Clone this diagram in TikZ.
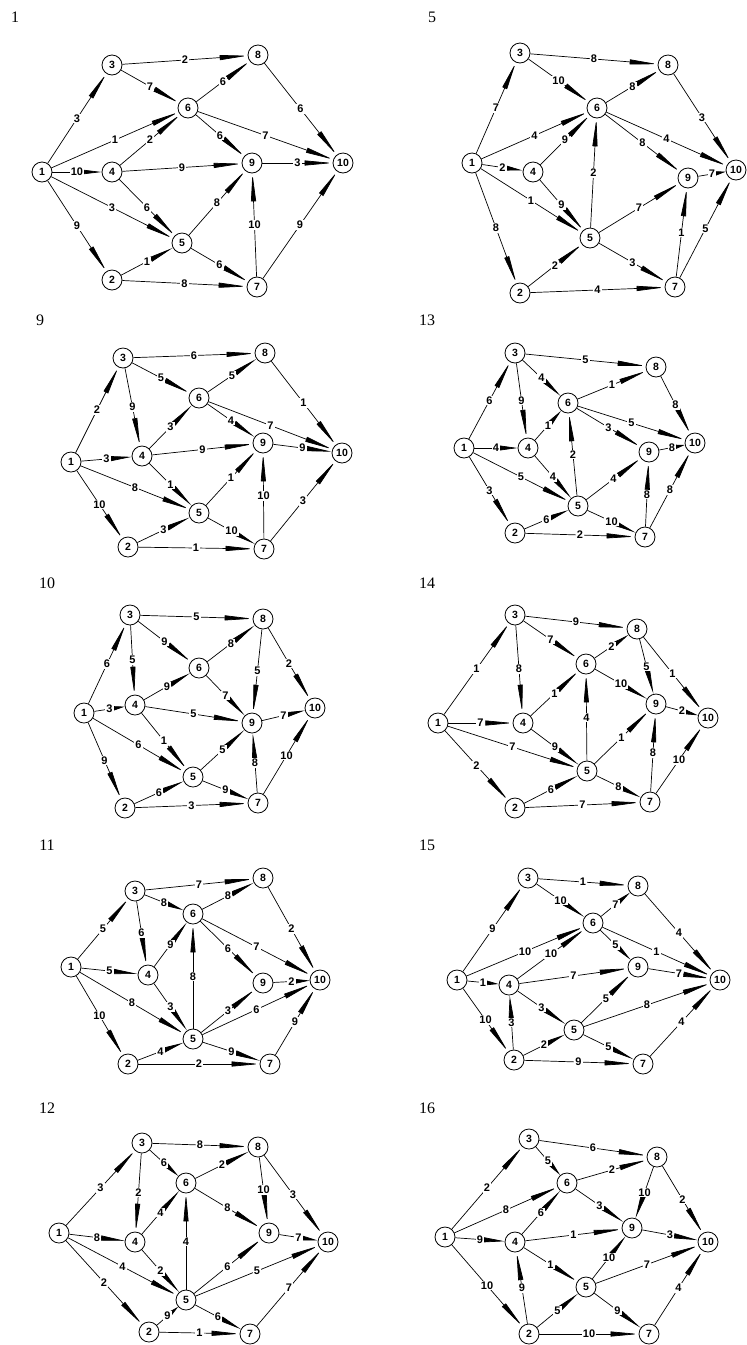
\documentclass[tikz,border=0pt]{standalone}
\usepackage{fontspec}
\setmainfont{Liberation Serif}
\newfontfamily\sansf{Liberation Sans}
\usetikzlibrary{arrows.meta}
\makeatletter
\newcommand\V[3]{\node[vx] (\g#1) at (#2,#3) {#1};}
\newcommand\E[3]{%
  \pgfpointdiff{\pgfpointanchor{\g#1}{center}}{\pgfpointanchor{\g#2}{center}}%
  \edef\edx{\the\pgf@x}\edef\edy{\the\pgf@y}%
  \pgfmathsetmacro\arlen{min(28,0.42*(veclen(\edx,\edy)-20))}%
  \draw[edge,-{Triangle[length=\arlen pt,width=5pt]}] (\g#1) -- node[lab]{#3} (\g#2);%
}
\makeatother
\tikzset{
  vx/.style={circle, draw, line width=0.8pt, minimum size=20pt, inner sep=0pt, fill=white,
    font=\sansf\bfseries\fontsize{10.5}{10.5}\selectfont},
  edge/.style={line width=0.7pt},
  lab/.style={fill=white, inner sep=1pt, font=\sansf\bfseries\fontsize{11}{11}\selectfont},
  ttl/.style={inner sep=0pt, font=\fontsize{16}{16}\selectfont}
}
\begin{document}
\begin{tikzpicture}[x=1pt,y=-1pt]
\fill[white] (0,0) rectangle (747,1345);
\useasboundingbox (0,0) rectangle (747,1345);
% titles
\node[ttl] (t1) at (15,17) {1};
\node[ttl] (t5) at (432,17) {5};
\node[ttl] (t9) at (40,320) {9};
\node[ttl] (t13) at (427,320) {13};
\node[ttl] (t10) at (47,583) {10};
\node[ttl] (t14) at (427,583) {14};
\node[ttl] (t11) at (47,845) {11};
\node[ttl] (t15) at (427,845) {15};
\node[ttl] (t12) at (47,1108) {12};
\node[ttl] (t16) at (427,1108) {16};
% graph 1
\def\g{a}
\V{1}{42}{172} \V{2}{112}{280} \V{3}{112}{65} \V{4}{112}{172} \V{5}{182}{243}
\V{6}{188}{108} \V{7}{257}{287} \V{8}{258}{55} \V{9}{252}{163} \V{10}{343}{163}
\E{1}{3}{3} \E{3}{8}{2} \E{3}{6}{7} \E{6}{8}{6} \E{8}{10}{6} \E{1}{6}{1} \E{4}{6}{2}
\E{6}{9}{6} \E{6}{10}{7} \E{1}{4}{10} \E{4}{9}{9} \E{9}{10}{3} \E{1}{5}{3} \E{4}{5}{6}
\E{5}{9}{8} \E{7}{9}{10} \E{7}{10}{9} \E{1}{2}{9} \E{2}{5}{1} \E{5}{7}{6} \E{2}{7}{8}
% graph 5
\def\g{b}
\V{1}{472}{163} \V{2}{520}{293} \V{3}{520}{53} \V{4}{533}{172} \V{5}{590}{238}
\V{6}{597}{108} \V{7}{675}{287} \V{8}{668}{65} \V{9}{688}{178} \V{10}{736}{170}
\E{1}{3}{7} \E{3}{8}{8} \E{3}{6}{10} \E{6}{8}{8} \E{8}{10}{3} \E{1}{6}{4} \E{4}{6}{9}
\E{5}{6}{2} \E{6}{9}{8} \E{6}{10}{4} \E{1}{4}{2} \E{9}{10}{7} \E{1}{5}{1} \E{4}{5}{9}
\E{5}{9}{7} \E{7}{9}{1} \E{7}{10}{5} \E{1}{2}{8} \E{2}{5}{2} \E{5}{7}{3} \E{2}{7}{4}
% graph 9
\def\g{c}
\V{1}{71}{462} \V{2}{128}{547} \V{3}{123}{358} \V{4}{142}{456} \V{5}{199}{513}
\V{6}{199}{398} \V{7}{264}{549} \V{8}{265}{353} \V{9}{263}{443} \V{10}{342}{453}
\E{1}{3}{2} \E{3}{8}{6} \E{3}{6}{5} \E{6}{8}{5} \E{8}{10}{1} \E{3}{4}{9} \E{4}{6}{3}
\E{6}{9}{4} \E{6}{10}{7} \E{1}{4}{3} \E{4}{9}{9} \E{9}{10}{9} \E{1}{5}{8} \E{4}{5}{1}
\E{5}{9}{1} \E{7}{9}{10} \E{7}{10}{3} \E{1}{2}{10} \E{2}{5}{3} \E{5}{7}{10} \E{2}{7}{1}
% graph 13
\def\g{d}
\V{1}{464}{448} \V{2}{515}{533} \V{3}{515}{353} \V{4}{528}{448} \V{5}{578}{506}
\V{6}{568}{403} \V{7}{645}{537} \V{8}{656}{367} \V{9}{649}{452} \V{10}{695}{443}
\E{1}{3}{6} \E{3}{8}{5} \E{3}{6}{4} \E{6}{8}{1} \E{8}{10}{8} \E{3}{4}{9} \E{4}{6}{1}
\E{5}{6}{2} \E{6}{9}{3} \E{6}{10}{5} \E{1}{4}{4} \E{9}{10}{8} \E{1}{5}{5} \E{4}{5}{4}
\E{5}{9}{4} \E{7}{9}{8} \E{7}{10}{8} \E{1}{2}{3} \E{2}{5}{6} \E{5}{7}{10} \E{2}{7}{2}
% graph 10
\def\g{e}
\V{1}{84}{713} \V{2}{125}{808} \V{3}{130}{615} \V{4}{135}{705} \V{5}{193}{777}
\V{6}{199}{668} \V{7}{258}{803} \V{8}{263}{619} \V{9}{252}{723} \V{10}{315}{708}
\E{1}{3}{6} \E{3}{8}{5} \E{3}{6}{9} \E{6}{8}{8} \E{8}{10}{2} \E{3}{4}{5} \E{4}{6}{9}
\E{6}{9}{7} \E{8}{9}{5} \E{9}{10}{7} \E{4}{9}{5} \E{1}{4}{3} \E{1}{5}{6} \E{4}{5}{1}
\E{5}{9}{5} \E{7}{9}{8} \E{7}{10}{10} \E{1}{2}{9} \E{2}{5}{6} \E{5}{7}{9} \E{2}{7}{3}
% graph 14
\def\g{f}
\V{1}{438}{723} \V{2}{515}{808} \V{3}{515}{615} \V{4}{523}{723} \V{5}{587}{771}
\V{6}{586}{664} \V{7}{650}{802} \V{8}{637}{629} \V{9}{656}{704} \V{10}{708}{718}
\E{1}{3}{1} \E{3}{8}{9} \E{3}{6}{7} \E{6}{8}{2} \E{8}{10}{1} \E{3}{4}{8} \E{4}{6}{1}
\E{5}{6}{4} \E{6}{9}{10} \E{8}{9}{5} \E{9}{10}{2} \E{1}{4}{7} \E{1}{5}{7} \E{4}{5}{9}
\E{5}{9}{1} \E{7}{9}{8} \E{7}{10}{10} \E{1}{2}{2} \E{2}{5}{6} \E{5}{7}{8} \E{2}{7}{7}
% graph 11
\def\g{g}
\V{1}{71}{967} \V{2}{128}{1064} \V{3}{135}{891} \V{4}{148}{975} \V{5}{193}{1039}
\V{6}{193}{914} \V{7}{270}{1064} \V{8}{263}{878} \V{9}{263}{983} \V{10}{320}{980}
\E{1}{3}{5} \E{3}{8}{7} \E{3}{6}{8} \E{6}{8}{8} \E{8}{10}{2} \E{3}{4}{6} \E{4}{6}{9}
\E{5}{6}{8} \E{6}{9}{6} \E{6}{10}{7} \E{9}{10}{2} \E{1}{4}{5} \E{1}{5}{8} \E{4}{5}{3}
\E{5}{9}{3} \E{5}{10}{6} \E{7}{10}{9} \E{1}{2}{10} \E{2}{5}{4} \E{5}{7}{9} \E{2}{7}{2}
% graph 15
\def\g{h}
\V{1}{457}{980} \V{2}{514}{1060} \V{3}{528}{878} \V{4}{509}{985} \V{5}{574}{1030}
\V{6}{593}{923} \V{7}{643}{1064} \V{8}{638}{886} \V{9}{638}{967} \V{10}{720}{980}
\E{1}{3}{9} \E{3}{8}{1} \E{3}{6}{10} \E{6}{8}{7} \E{8}{10}{4} \E{1}{6}{10} \E{4}{6}{10}
\E{6}{9}{5} \E{6}{10}{1} \E{1}{4}{1} \E{4}{9}{7} \E{9}{10}{7} \E{4}{5}{3} \E{5}{9}{5}
\E{5}{10}{8} \E{2}{4}{3} \E{1}{2}{10} \E{2}{5}{2} \E{5}{7}{5} \E{7}{10}{4} \E{2}{7}{9}
% graph 12
\def\g{i}
\V{1}{59}{1233} \V{2}{149}{1332} \V{3}{142}{1143} \V{4}{135}{1242} \V{5}{186}{1300}
\V{6}{186}{1183} \V{7}{250}{1334} \V{8}{258}{1147} \V{9}{269}{1233} \V{10}{328}{1242}
\E{1}{3}{3} \E{3}{8}{8} \E{3}{6}{6} \E{6}{8}{2} \E{8}{10}{3} \E{3}{4}{2} \E{4}{6}{4}
\E{5}{6}{4} \E{6}{9}{8} \E{8}{9}{10} \E{9}{10}{7} \E{1}{4}{8} \E{1}{5}{4} \E{4}{5}{2}
\E{5}{9}{6} \E{5}{10}{5} \E{7}{10}{7} \E{1}{2}{2} \E{2}{5}{9} \E{5}{7}{6} \E{2}{7}{1}
% graph 16
\def\g{j}
\V{1}{445}{1237} \V{2}{529}{1334} \V{3}{529}{1139} \V{4}{515}{1242} \V{5}{586}{1287}
\V{6}{567}{1183} \V{7}{649}{1334} \V{8}{657}{1157} \V{9}{632}{1228} \V{10}{708}{1242}
\E{1}{3}{2} \E{3}{8}{6} \E{3}{6}{5} \E{6}{8}{2} \E{8}{10}{2} \E{1}{6}{8} \E{4}{6}{6}
\E{6}{9}{3} \E{8}{9}{10} \E{1}{4}{9} \E{4}{9}{1} \E{9}{10}{3} \E{4}{5}{1} \E{5}{9}{10}
\E{5}{10}{7} \E{2}{4}{9} \E{1}{2}{10} \E{2}{5}{5} \E{5}{7}{9} \E{7}{10}{4} \E{2}{7}{10}
\end{tikzpicture}
\end{document}
